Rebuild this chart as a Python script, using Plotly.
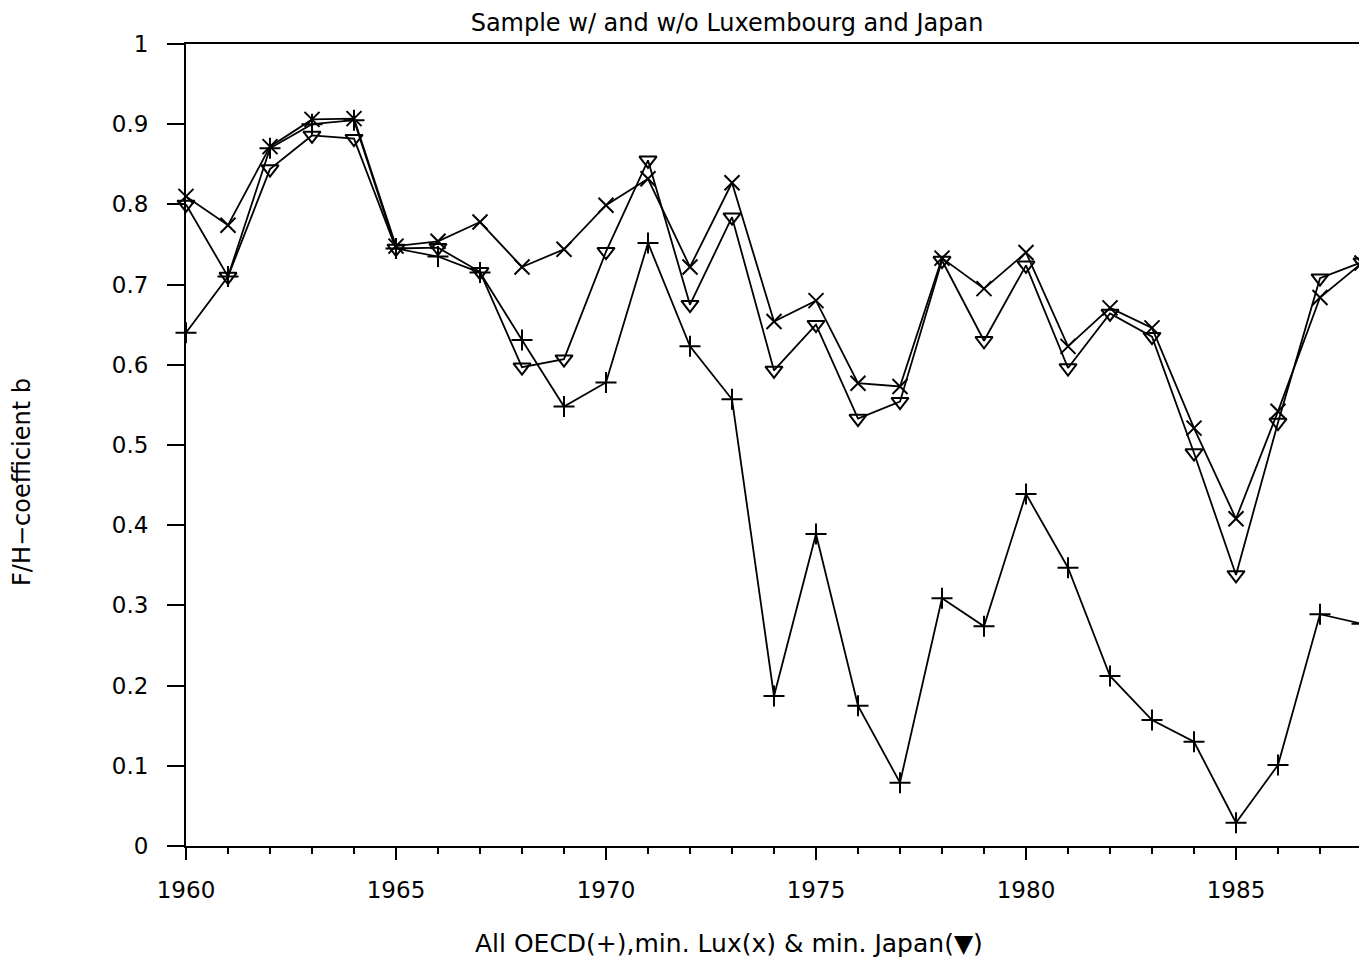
import plotly.graph_objects as go

years = list(range(1960, 1989))

all_oecd = [0.64, 0.71, 0.87, 0.90, 0.905, 0.745, 0.735, 0.715, 0.631, 0.548,
            0.578, 0.752, 0.623, 0.557, 0.187, 0.389, 0.175, 0.079, 0.309, 0.274,
            0.439, 0.347, 0.212, 0.157, 0.130, 0.029, 0.101, 0.289, 0.277]

min_lux = [0.81, 0.774, 0.872, 0.906, 0.907, 0.748, 0.754, 0.778, 0.722, 0.744,
           0.799, 0.832, 0.722, 0.827, 0.654, 0.680, 0.577, 0.573, 0.733, 0.695,
           0.740, 0.623, 0.671, 0.646, 0.521, 0.408, 0.542, 0.684, 0.727]

min_japan = [0.80, 0.71, 0.844, 0.886, 0.882, 0.745, 0.746, 0.716, 0.597, 0.607,
             0.741, 0.855, 0.675, 0.784, 0.593, 0.650, 0.533, 0.554, 0.730, 0.630,
             0.724, 0.596, 0.664, 0.635, 0.490, 0.338, 0.528, 0.708, 0.728]

series = [
    ("All OECD", all_oecd, "cross-thin-open"),
    ("min. Lux", min_lux, "x-thin-open"),
    ("min. Japan", min_japan, "triangle-down-open"),
]

fig = go.Figure()
for name, vals, sym in series:
    fig.add_trace(go.Scatter(
        x=years, y=vals, mode="lines+markers", name=name,
        line=dict(color="black", width=1.8),
        marker=dict(symbol=sym, size=15, color="black",
                    line=dict(color="black", width=2)),
        cliponaxis=False,
    ))

font_family = "DejaVu Sans"
W, H = 1359, 953
fig.update_layout(
    width=W, height=H,
    paper_bgcolor="white", plot_bgcolor="white",
    margin=dict(l=178, r=3, t=36, b=115),
    showlegend=False,
    font=dict(family=font_family, color="black", size=23),
    title=dict(text="Sample w/ and w/o Luxembourg and Japan", x=719 / W, xanchor="center",
               y=1 - 15 / H, yanchor="middle", font=dict(size=24, family=font_family)),
    annotations=[
        dict(text="All OECD(+),min. Lux(x) & min. Japan(\u25bc)", xref="paper", yref="paper",
             x=(730 - 186) / 1178, y=0, yshift=-97, showarrow=False, xanchor="center",
             yanchor="middle", font=dict(size=25, family=font_family)),
        dict(text="F/H\u2212coefficient b", xref="paper", yref="paper",
             x=0, xshift=-164, y=(846 - 482) / 802, showarrow=False, textangle=-90,
             xanchor="center", yanchor="middle", font=dict(size=24, family=font_family)),
    ],
)
fig.update_xaxes(
    range=[1960, 1988], tickvals=[1960, 1965, 1970, 1975, 1980, 1985],
    ticks="outside", ticklen=12, tickwidth=2, tickcolor="black",
    minor=dict(dtick=1, tick0=1960, ticks="outside", ticklen=6, tickwidth=1.5,
               tickcolor="black", showgrid=False),
    showline=True, linecolor="black", linewidth=2, mirror=True,
    showgrid=False, zeroline=False, tickfont=dict(size=23), ticklabelstandoff=10,
)
fig.update_yaxes(
    range=[0, 1], tickvals=[0, 0.1, 0.2, 0.3, 0.4, 0.5, 0.6, 0.7, 0.8, 0.9, 1],
    ticktext=["0", "0.1", "0.2", "0.3", "0.4", "0.5", "0.6", "0.7", "0.8", "0.9", "1"],
    ticks="outside", ticklen=17, tickwidth=1.5, tickcolor="black",
    showline=True, linecolor="black", linewidth=2, mirror=True,
    showgrid=False, zeroline=False, tickfont=dict(size=23), ticklabelstandoff=14,
)
fig.write_html("out.html")
